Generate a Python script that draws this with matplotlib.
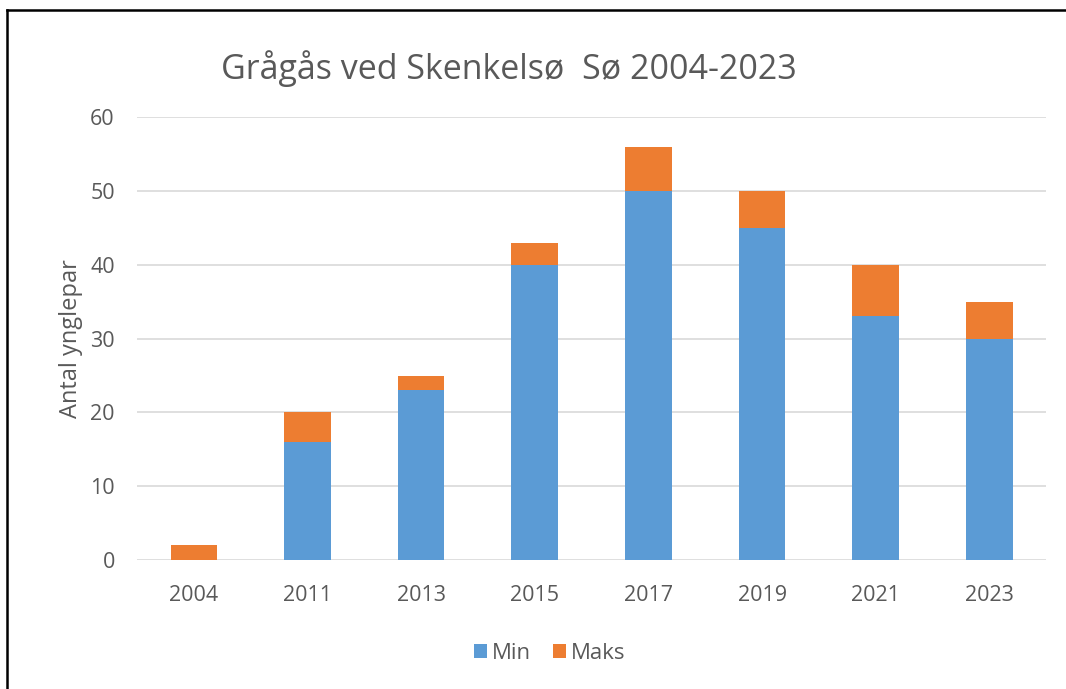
import matplotlib.pyplot as plt
import numpy as np
from matplotlib.lines import Line2D

years = ["2004", "2011", "2013", "2015", "2017", "2019", "2021", "2023"]
min_pairs = [0, 16, 23, 40, 50, 45, 33, 30]
extra_pairs = [2, 4, 2, 3, 6, 5, 7, 5]  # Maks minus Min

blue = "#5B9BD5"
orange = "#ED7D31"
grey = "#595959"

plt.rcParams['font.family'] = ['Open Sans', 'DejaVu Sans']

fig = plt.figure(figsize=(10.66, 6.89), dpi=100)
ax = fig.add_axes([0.1285, 0.187, 0.853, 0.643])

x = np.arange(len(years))
ax.bar(x, min_pairs, width=0.41, color=blue, label="Min", zorder=3)
ax.bar(x, extra_pairs, width=0.41, bottom=min_pairs, color=orange, label="Maks", zorder=3)

ax.set_xlim(-0.5, len(years) - 0.5)
ax.set_ylim(0, 60)
ax.set_yticks(range(0, 61, 10))
ax.set_xticks(x)
ax.set_xticklabels(years)
ax.yaxis.grid(True, color="#D9D9D9", linewidth=1.2, zorder=0)
for s in ax.spines.values():
    s.set_visible(False)
ax.tick_params(length=0, labelsize=15.5, colors=grey)
ax.tick_params(axis='x', pad=18)
ax.tick_params(axis='y', pad=16)

ax.set_ylabel("Antal ynglepar", fontsize=17, color=grey, labelpad=5)
fig.text(0.4775, 0.90, "Grågås ved Skenkelsø  Sø 2004-2023", fontsize=24.5,
         color=grey, ha="center", va="center")

ax.legend(loc="center", bbox_to_anchor=(0.4535, -0.21), ncol=2, frameon=False,
          fontsize=16, labelcolor=grey, handlelength=0.6, handleheight=0.6,
          handletextpad=0.2, columnspacing=1.0)

# black frame at top and left, as in the screenshot
fig.add_artist(Line2D([0.0066, 1.0], [0.986, 0.986], color="black", lw=1.8))
fig.add_artist(Line2D([0.0066, 0.0066], [0.0, 0.986], color="black", lw=1.8))

fig.savefig("out.png", dpi=100)
